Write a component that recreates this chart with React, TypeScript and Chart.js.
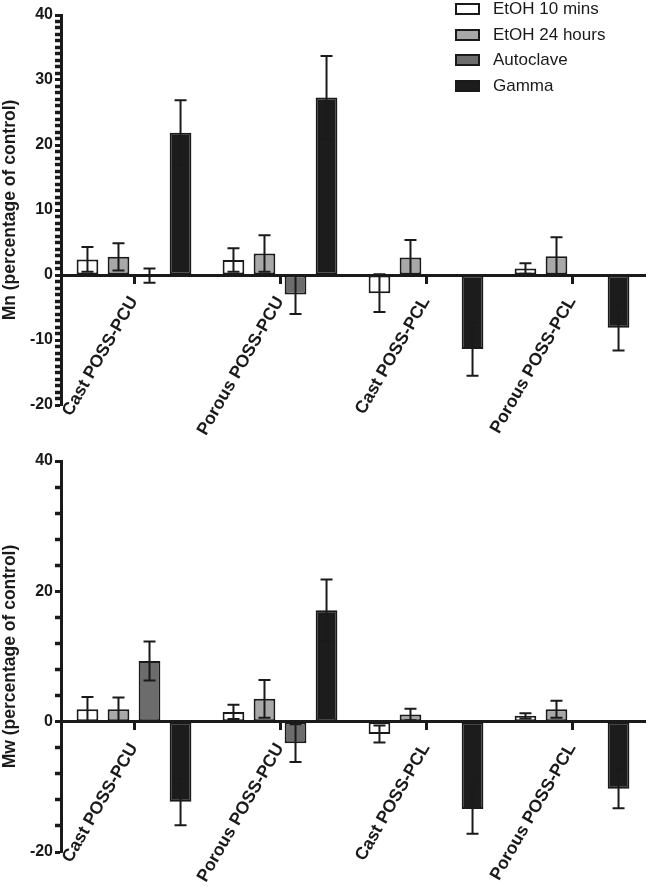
import React, { useEffect, useRef } from 'react';
import { Chart, registerables } from 'chart.js';

Chart.register(...registerables);

// ---------- data ----------
const categories = ['Cast POSS-PCU', 'Porous POSS-PCU', 'Cast POSS-PCL', 'Porous POSS-PCL'];
const seriesNames = ['EtOH 10 mins', 'EtOH 24 hours', 'Autoclave', 'Gamma'];
const seriesColors = ['#ffffff', '#a8a8a8', '#6c6c6c', '#1c1c1c'];

// Mn (percentage of control)
const mnEtoh10 = [2.4, 2.3, -2.8, 1.0];
const mnEtoh10Err = [1.9, 1.8, 2.9, 0.8];
const mnEtoh24 = [2.8, 3.3, 2.7, 2.9];
const mnEtoh24Err = [2.1, 2.8, 2.7, 2.9];
const mnAutoclave = [-0.1, -3.0, null, null];
const mnAutoclaveErr = [1.1, 3.0, null, null];
const mnGamma = [21.9, 27.3, -11.4, -8.1];
const mnGammaErr = [5.0, 6.4, 4.1, 3.5];

// Mw (percentage of control)
const mwEtoh10 = [1.9, 1.5, -1.9, 0.9];
const mwEtoh10Err = [1.9, 1.1, 1.3, 0.4];
const mwEtoh24 = [1.9, 3.5, 1.1, 1.9];
const mwEtoh24Err = [1.8, 2.9, 0.9, 1.3];
const mwAutoclave = [9.3, -3.3, null, null];
const mwAutoclaveErr = [3.0, 2.9, null, null];
const mwGamma = [-12.3, 17.1, -13.4, -10.3];
const mwGammaErr = [3.6, 4.7, 3.8, 3.0];

const yMin = -20;
const yMax = 40;
const mnMajorStep = 10;
const mnMinorStep = 1;
const mwMajorStep = 20;
const mwMinorStep = 4;

// ---------- style ----------
const INK = '#1a1a1a';
const FONT = '"Liberation Sans", Arial, Helvetica, sans-serif';

const errorBarPlugin = {
  id: 'errorBars',
  afterDatasetsDraw(chart: any) {
    const { ctx } = chart;
    const yScale = chart.scales.y;
    chart.data.datasets.forEach((ds: any, di: number) => {
      const meta = chart.getDatasetMeta(di);
      const errs = ds.errors || [];
      meta.data.forEach((bar: any, i: number) => {
        const v = ds.data[i];
        const e = errs[i];
        if (v == null || e == null) return;
        const x = bar.x;
        const yHi = yScale.getPixelForValue(v + e);
        const yLo = yScale.getPixelForValue(v - e);
        ctx.save();
        ctx.strokeStyle = INK;
        ctx.lineWidth = 2;
        ctx.beginPath();
        ctx.moveTo(x, yHi);
        ctx.lineTo(x, yLo);
        ctx.moveTo(x - 6, yHi);
        ctx.lineTo(x + 6, yHi);
        ctx.moveTo(x - 6, yLo);
        ctx.lineTo(x + 6, yLo);
        ctx.stroke();
        ctx.restore();
      });
    });
  },
};

type PanelProps = {
  title: string;
  values: (number | null)[][];
  errors: (number | null)[][];
  majorStep: number;
  minorStep: number;
  height: number;
  padTop: number;
  showLegend: boolean;
};

function Panel({ title, values, errors, majorStep, minorStep, height, padTop, showLegend }: PanelProps) {
  const ref = useRef<HTMLCanvasElement | null>(null);

  useEffect(() => {
    if (!ref.current) return;
    const isMajor = (v: number) => Math.abs(v % majorStep) < 1e-9;
    const chart = new Chart(ref.current, {
      type: 'bar',
      data: {
        labels: categories,
        datasets: seriesNames.map((name, i) => ({
          label: name,
          data: values[i],
          errors: errors[i],
          backgroundColor: seriesColors[i],
          borderColor: INK,
          borderWidth: 2,
          borderSkipped: false,
          categoryPercentage: 0.85,
          barPercentage: 0.7,
        })) as any,
      },
      options: {
        responsive: false,
        animation: false,
        layout: { padding: { top: padTop, bottom: 35, left: 0, right: 5 } },
        plugins: {
          legend: { display: false },
          tooltip: { enabled: false },
        },
        scales: {
          x: {
            type: 'category',
            position: { y: 0 } as any,
            offset: true,
            grid: {
              display: true,
              drawOnChartArea: false,
              offset: false,
              drawTicks: true,
              tickLength: 7,
              tickWidth: 3,
              tickColor: INK,
            },
            border: { display: true, width: 3, color: INK },
            ticks: {
              autoSkip: false,
              maxRotation: 60,
              minRotation: 60,
              padding: 11,
              color: INK,
              font: { family: FONT, size: 17.5, weight: 'bold' },
            },
          },
          y: {
            type: 'linear',
            position: 'left',
            min: yMin,
            max: yMax,
            afterFit: (s: any) => {
              s.width = 61;
            },
            ticks: {
              stepSize: minorStep,
              autoSkip: false,
              padding: 2,
              color: INK,
              font: { family: FONT, size: 16, weight: 'bold' },
              callback: (v: any) => (isMajor(Number(v)) ? String(v) : ''),
            },
            grid: {
              display: true,
              drawOnChartArea: false,
              tickLength: 6,
              tickWidth: (c: any) => (c.tick && isMajor(c.tick.value) ? 3 : 3.5),
              tickColor: INK,
            },
            border: { display: true, width: 3, color: INK },
            title: {
              display: true,
              text: title,
              color: INK,
              padding: 0,
              font: { family: FONT, size: 17.5, weight: 'bold' },
            },
          },
        },
      } as any,
      plugins: [errorBarPlugin],
    });
    return () => chart.destroy();
  }, []);

  return (
    <div style={{ position: 'relative', width: 650, height }}>
      <canvas ref={ref} width={650} height={height} style={{ display: 'block' }} />
      {showLegend && (
        <div style={{ position: 'absolute', left: 455, top: 0 }}>
          {seriesNames.map((name, i) => (
            <div
              key={name}
              style={{ display: 'flex', alignItems: 'center', height: 25.7, marginTop: i === 0 ? -3.8 : 0 }}
            >
              <div
                style={{
                  width: 25,
                  height: 12,
                  boxSizing: 'border-box',
                  border: `2px solid ${INK}`,
                  background: seriesColors[i],
                }}
              />
              <span
                style={{
                  marginLeft: 13,
                  fontFamily: FONT,
                  fontSize: 17,
                  color: INK,
                  whiteSpace: 'nowrap',
                  lineHeight: '20px',
                }}
              >
                {name}
              </span>
            </div>
          ))}
        </div>
      )}
    </div>
  );
}

export default function App() {
  return (
    <div style={{ position: 'absolute', left: 0, top: 0, width: 650, height: 887, background: '#fff' }}>
      <Panel
        title="Mn (percentage of control)"
        values={[mnEtoh10, mnEtoh24, mnAutoclave, mnGamma]}
        errors={[mnEtoh10Err, mnEtoh24Err, mnAutoclaveErr, mnGammaErr]}
        majorStep={mnMajorStep}
        minorStep={mnMinorStep}
        height={440}
        padTop={15}
        showLegend={true}
      />
      <Panel
        title="Mw (percentage of control)"
        values={[mwEtoh10, mwEtoh24, mwAutoclave, mwGamma]}
        errors={[mwEtoh10Err, mwEtoh24Err, mwAutoclaveErr, mwGammaErr]}
        majorStep={mwMajorStep}
        minorStep={mwMinorStep}
        height={447}
        padTop={21}
        showLegend={false}
      />
    </div>
  );
}
